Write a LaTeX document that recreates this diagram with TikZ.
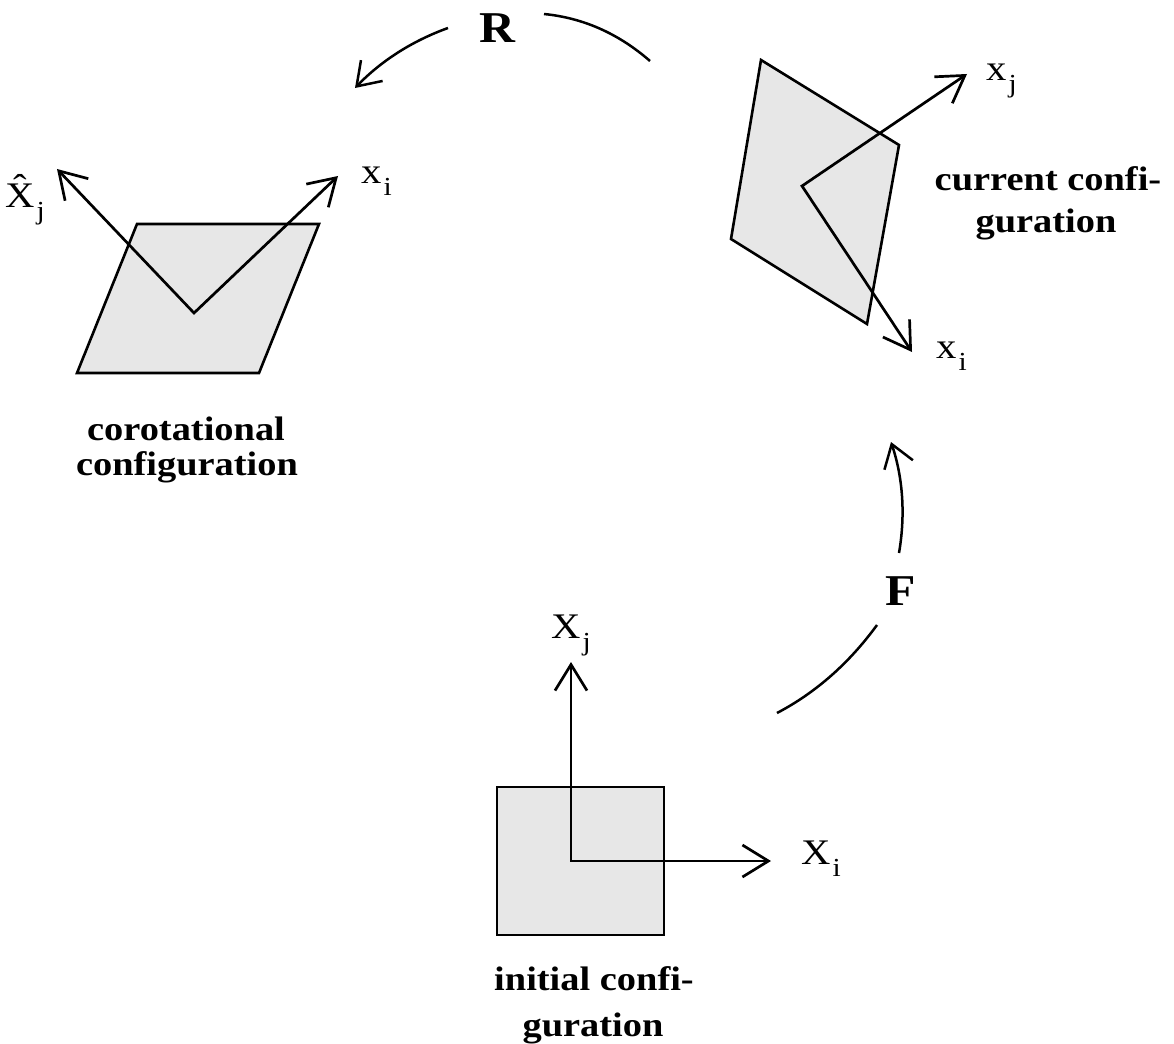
\documentclass[tikz,border=0pt]{standalone}
\usepackage{fontspec}
\setmainfont[FakeStretch=1.13]{Liberation Serif}
\usetikzlibrary{arrows.meta}
\definecolor{shade}{RGB}{231,231,231}
\newcommand{\lbl}[2]{#1\kern2pt\raisebox{-12pt}{\fontsize{26}{26}\selectfont #2}}
\newcommand{\hatX}{\accent"02C6 X}
\begin{document}
\begin{tikzpicture}[x=1pt,y=-1pt,
  shapefill/.style={draw=black, fill=shade, line width=2.6pt, line join=miter},
  axes/.style={line width=2.7pt, line join=miter,
    {Straight Barb[length=26pt,width=32pt]}-{Straight Barb[length=26pt,width=32pt]}},
  turnarrow/.style={line width=2.5pt, -{Straight Barb[length=22pt,width=30pt]}},
  turn/.style={line width=2.5pt},
  lab/.style={inner sep=0pt, anchor=base west, font=\fontsize{36}{36}\selectfont},
  title/.style={inner sep=0pt, anchor=base, font=\bfseries\fontsize{34}{35}\selectfont},
  big/.style={inner sep=0pt, anchor=base, font=\bfseries\fontsize{44}{44}\selectfont}]
\useasboundingbox (0,0) rectangle (1174,1043);

% corotational configuration
\draw[shapefill] (137,224) -- (319,224) -- (259,373) -- (77,373) -- cycle;
\coordinate (co) at (194,313);
\coordinate (coj) at (57,169);
\coordinate (coi) at (338,176);
\draw[axes] (coj) -- (co) -- (coi);
\node[lab] (lcoj) at (5,207) {\lbl{\hatX}{j}};
\node[lab] (lcoi) at (361,183) {\lbl{x}{i}};
\node[title] (coA) at (186,440) {corotational};
\node[title] (coB) at (187,475) {configuration};

% current configuration
\draw[shapefill] (761,60) -- (899,145) -- (867,324) -- (731,239) -- cycle;
\coordinate (cu) at (802,186);
\coordinate (cuj) at (967,74);
\coordinate (cui) at (912,352);
\draw[axes] (cuj) -- (cu) -- (cui);
\node[lab] (lcuj) at (986,81) {\lbl{x}{j}};
\node[lab] (lcui) at (936,358) {\lbl{x}{i}};
\node[title] (cuA) at (1048,190) {current confi-};
\node[title] (cuB) at (1046,232) {guration};

% initial configuration
\draw[shapefill] (497,787) rectangle (664,935);
\coordinate (in) at (571,861);
\coordinate (inj) at (571,662);
\coordinate (ini) at (771,861);
\draw[axes] (inj) -- (in) -- (ini);
\node[lab] (linj) at (551,638) {\lbl{X}{j}};
\node[lab] (lini) at (801,864) {\lbl{X}{i}};
\node[title] (inA) at (594,990) {initial confi-};
\node[title] (inB) at (593,1036) {guration};

% R
\node[big] (R) at (497,43) {R};
\coordinate (Ra1) at (448,28);
\coordinate (Ra2) at (355,88);
\coordinate (Rb1) at (544,14);
\coordinate (Rb2) at (650,61);
\draw[turnarrow] (Ra1) .. controls (412,41) and (381,61) .. (Ra2);
\draw[turn] (Rb1) .. controls (584,18) and (619,34) .. (Rb2);

% F
\node[big] (F) at (901,605) {F};
\coordinate (Fa1) at (899,553);
\coordinate (Fa2) at (891,442);
\coordinate (Fb1) at (877,625);
\coordinate (Fb2) at (777,713);
\draw[turnarrow] (Fa1) .. controls (905.5,515) and (903,478) .. (Fa2);
\draw[turn] (Fb1) .. controls (850,662) and (817,692) .. (Fb2);
\end{tikzpicture}
\end{document}
